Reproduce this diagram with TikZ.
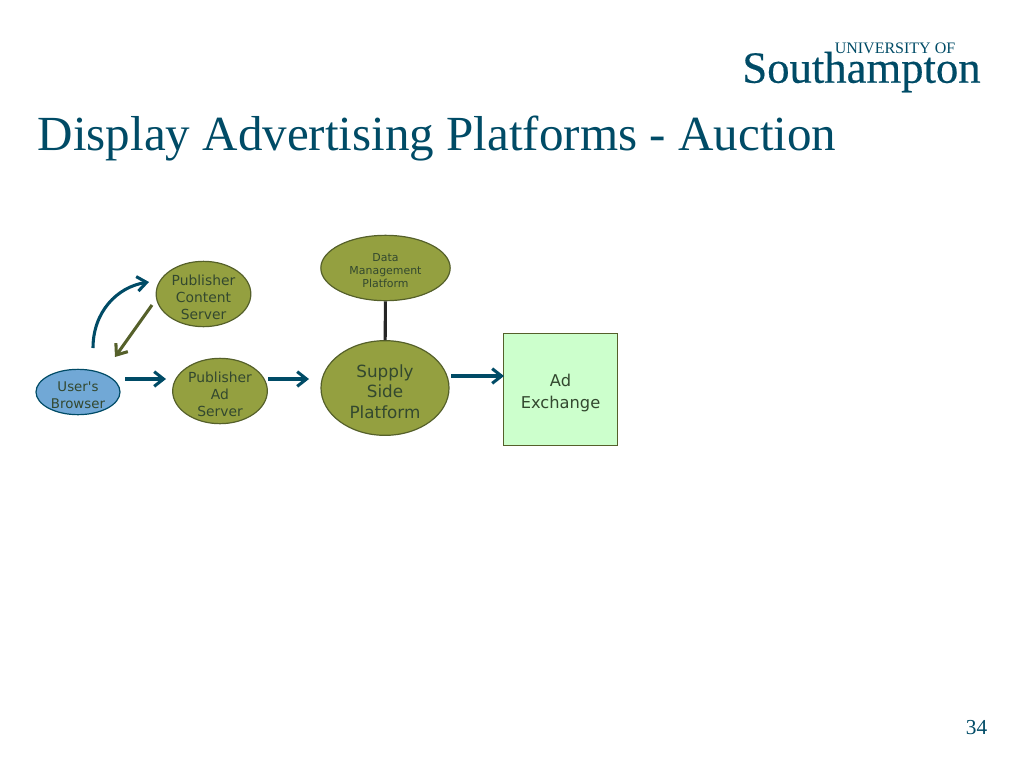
\documentclass[tikz,border=0pt]{standalone}
\usepackage{fontspec}
\setmainfont{Liberation Serif}
\newfontfamily\labelfont{DejaVu Sans}
\newfontfamily\logofont[FakeBold=0.4]{Liberation Serif}
\usepackage{tikz}
\usetikzlibrary{arrows.meta,shapes.geometric,positioning}
\definecolor{teal}{HTML}{004B66}
\definecolor{oliveFill}{HTML}{94A040}
\definecolor{oliveLine}{HTML}{55602A}
\definecolor{textCol}{HTML}{33482F}
\definecolor{browserFill}{HTML}{71A8D6}
\definecolor{exchFill}{HTML}{CCFFCC}
\newcommand{\topgap}{\rule{0pt}{1.2em}}
\tikzset{
  blob/.style={draw=oliveLine, fill=oliveFill, ellipse, inner xsep=0pt, inner ysep=-5pt, line width=0.9pt, text=textCol, align=center, font=\labelfont},
  flow/.style={-{Straight Barb[length=7pt,width=11pt,line width=2.3pt]}, line width=2.3pt, draw=teal},
}
\begin{document}
\begin{tikzpicture}[x=0.75pt,y=-0.75pt]
    \useasboundingbox (0,0) rectangle (1024,768);
    \node[anchor=west, text=teal, font=\fontsize{36.8}{40}\selectfont] (title) at (33,138.5) {Display Advertising Platforms - Auction};
    \node[text=teal, inner sep=0pt, font=\fontsize{12}{12}\selectfont] (uni) at (895,48) {UNIVERSITY OF};
    \node[text=teal, inner sep=0pt, font=\logofont\fontsize{33.5}{34}\selectfont] (soton) at (861.5,72) {Southampton};
    \node[text=teal, font=\fontsize{16}{18}\selectfont] (page) at (976.5,728) {34};

    \node[blob, draw=teal, fill=browserFill, minimum width=63pt, minimum height=34pt, font=\labelfont\fontsize{10}{13}\selectfont] (browser) at (78,392) {\topgap User's\\Browser};
    \node[blob, minimum width=71pt, minimum height=49pt, font=\labelfont\fontsize{10.4}{12.8}\selectfont] (content) at (203.5,294) {\topgap Publisher\\Content\\Server};
    \node[blob, minimum width=71pt, minimum height=49pt, font=\labelfont\fontsize{10.4}{12.8}\selectfont] (adserver) at (220,391) {\topgap Publisher\\Ad\\Server};
    \node[blob, minimum width=97pt, minimum height=49pt, font=\labelfont\fontsize{8.2}{10}\selectfont] (dmp) at (385.5,268) {\topgap Data\\Management\\Platform};
    \node[blob, minimum width=96pt, minimum height=71pt, font=\labelfont\fontsize{12.6}{15.2}\selectfont] (ssp) at (385,388) {\topgap Supply\\Side\\Platform};
    \node[blob, rectangle, fill=exchFill, minimum width=85pt, minimum height=84.5pt, font=\labelfont\fontsize{12.2}{16}\selectfont] (exchange) at (560.5,389.5) {\topgap Ad\\Exchange};

    \coordinate (curveStart) at (93,348);
    \coordinate (curveEnd) at (149,282);
    \coordinate (backStart) at (152,305);
    \coordinate (backEnd) at (115,357);
    \coordinate (browserOut) at (125,379);
    \coordinate (adIn) at (166,379);
    \coordinate (adOut) at (268,379);
    \coordinate (sspIn) at (309,379);
    \coordinate (sspOut) at (451,376);
    \coordinate (exchIn) at (504,376);

    % arrows
    \draw[flow] (curveStart) .. controls (93,312) and (117,287) .. (curveEnd);
    \draw[flow, draw=oliveLine] (backStart) -- (backEnd);
    \draw[flow] (browserOut) -- (adIn);
    \draw[flow] (adOut) -- (sspIn);
    \draw[flow] (sspOut) -- (exchIn);
    \draw[line width=2.3pt, draw=black!85] (dmp) -- (ssp);
\end{tikzpicture}
\end{document}
